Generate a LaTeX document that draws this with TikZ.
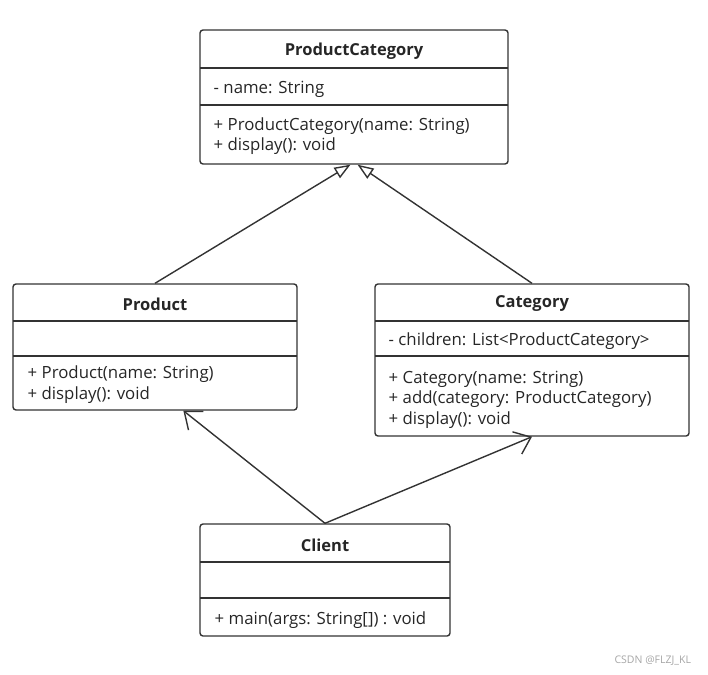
\documentclass[tikz,border=0pt]{standalone}
\usepackage{fontspec}
\setmainfont{Open Sans}
\usetikzlibrary{arrows.meta}
\definecolor{umlline}{HTML}{333333}
\tikzset{
    classbox/.style={draw=umlline,rounded corners=3pt,inner sep=0pt},
    member/.style={font=\fontsize{16.8}{20.5}\selectfont,text=black!85,inner sep=0pt,align=left,anchor=west},
    classname/.style={font=\fontsize{16.5}{20}\selectfont\bfseries,text=black!85,inner sep=0pt},
    inherit/.style={-{Triangle[open,length=16pt,width=12pt]}},
    assoc/.style={-{Straight Barb[length=15pt,width=24pt]}}
}
\begin{document}
\begin{tikzpicture}[x=1pt,y=-1pt,line width=1.4pt,color=umlline]
    \useasboundingbox (0,0) rectangle (708,674);

    % class boxes
    \node[classbox,minimum width=308pt,minimum height=134pt] (pc) at (354,97) {};
    \node[classbox,minimum width=284pt,minimum height=126pt] (prod) at (155,347) {};
    \node[classbox,minimum width=314pt,minimum height=152pt] (cat) at (532,360) {};
    \node[classbox,minimum width=250pt,minimum height=112pt] (client) at (325,580) {};

    % compartments
    \draw (200,68) -- (508,68) (200,105) -- (508,105);
    \draw (13,321) -- (297,321) (13,356) -- (297,356);
    \draw (375,321) -- (689,321) (375,356) -- (689,356);
    \draw (200,562) -- (450,562) (200,598) -- (450,598);

    % ProductCategory
    \node[classname] (pcname) at (354,51) {ProductCategory};
    \node[member] (pcattr) at (213,89) {- name: String};
    \node[member] (pcops) at (213,136) {+ ProductCategory(name: String)\\+ display(): void};

    % Product
    \node[classname] (prodname) at (155,304) {Product};
    \node[member] (prodops) at (27,384.5) {+ Product(name: String)\\+ display(): void};

    % Category
    \node[classname] (catname) at (532,304) {Category};
    \node[member] (catattr) at (388,341) {- children: List<ProductCategory>};
    \node[member] (catops) at (388,399.5) {+ Category(name: String)\\+ add(category: ProductCategory)\\+ display(): void};

    % Client
    \node[classname] (clientname) at (325,545) {Client};
    \node[member] (clientops) at (214,620) {+ main(args: String[]) : void};

    % relations
    \draw[inherit] (prod.north) -- (pc.-93);
    \draw[inherit] (cat.north) -- (pc.-87);
    \draw[assoc] (client.north) -- (prod.-66);
    \draw[assoc] (client.north) -- (cat.south);

    \node[font=\fontsize{10.5}{12}\selectfont,text=black!35,anchor=east] (mark) at (695,661) {CSDN @FLZJ\_KL};
\end{tikzpicture}
\end{document}
